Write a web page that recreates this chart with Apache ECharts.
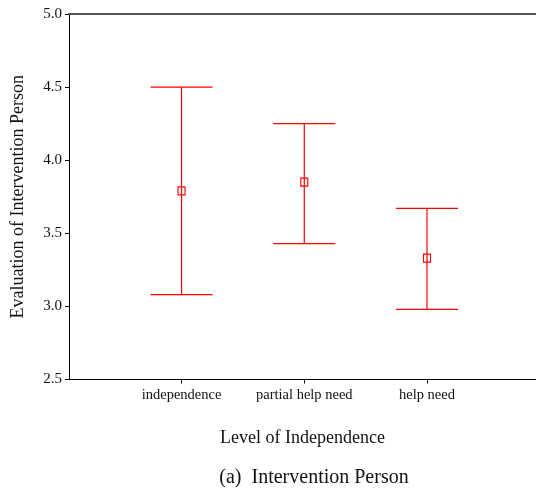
<!DOCTYPE html>
<html>
<head>
<meta charset="utf-8">
<script src="https://cdn.jsdelivr.net/npm/echarts@6/dist/echarts.min.js"></script>
<style>
  html, body { margin: 0; padding: 0; background: #fff; }
  #chart { width: 536px; height: 492px; }
</style>
</head>
<body>
<div id="chart"></div>
<script>
// Mean evaluation with interval bounds per level of independence
var categories = ['independence', 'partial help need', 'help need'];
var means = [3.79, 3.85, 3.33];
var lower = [3.08, 3.43, 2.98];
var upper = [4.50, 4.25, 3.67];
var yTicks = [2.5, 3.0, 3.5, 4.0, 4.5, 5.0];

var positions = categories.map(function (c, i) { return i + 1; });
var barData = positions.map(function (p, i) { return [p, lower[i], upper[i]]; });
var meanData = positions.map(function (p, i) { return [p, means[i]]; });

var RED = '#ff0000';
var SERIF = '"Liberation Serif", "DejaVu Serif", serif';
var X_MIN = 0.083, X_MAX = 3.888;

var chart = echarts.init(document.getElementById('chart'), null, { renderer: 'canvas' });

chart.setOption({
  animation: false,
  backgroundColor: '#ffffff',
  title: {
    text: '(a)  Intervention Person',
    left: 309,
    textAlign: 'center',
    top: 463,
    textStyle: { fontFamily: SERIF, fontSize: 20, fontWeight: 'normal', color: '#111' }
  },
  grid: {
    left: 69, right: 0, top: 14, bottom: 112.5,
    containLabel: false,
    outerBoundsMode: 'none'
  },
  xAxis: [{
    type: 'value',
    position: 'bottom',
    min: X_MIN, max: X_MAX,
    name: 'Level of Independence',
    nameLocation: 'middle',
    nameGap: 50,
    nameTextStyle: { fontFamily: SERIF, fontSize: 18, color: '#111' },
    axisLine: { show: true, lineStyle: { color: '#000', width: 1 } },
    axisTick: { show: true, length: 4, customValues: positions, lineStyle: { color: '#000' } },
    axisLabel: {
      customValues: positions,
      margin: 8,
      fontFamily: SERIF, fontSize: 14.5, color: '#111',
      formatter: function (v) { return categories[Math.round(v) - 1] || ''; }
    },
    splitLine: { show: false }
  }, {
    type: 'value',
    position: 'top',
    min: X_MIN, max: X_MAX,
    axisLine: { show: true, lineStyle: { color: '#555', width: 2 } },
    axisTick: { show: false },
    axisLabel: { show: false },
    splitLine: { show: false }
  }],
  yAxis: {
    type: 'value',
    min: 2.5, max: 5.0, interval: 0.5,
    name: 'Evaluation of Intervention Person',
    nameLocation: 'middle',
    nameGap: 42,
    nameTextStyle: { fontFamily: SERIF, fontSize: 18, color: '#111' },
    axisLine: { show: true, lineStyle: { color: '#000', width: 1 } },
    axisTick: { show: true, length: 4, lineStyle: { color: '#000' } },
    axisLabel: {
      customValues: yTicks,
      margin: 7,
      fontFamily: SERIF, fontSize: 15, color: '#111',
      formatter: function (v) { return v.toFixed(1); }
    },
    splitLine: { show: false }
  },
  series: [{
    type: 'custom',
    xAxisIndex: 0,
    data: barData,
    silent: true,
    z: 2,
    renderItem: function (params, api) {
      var x = api.value(0);
      var pLo = api.coord([x, api.value(1)]);
      var pHi = api.coord([x, api.value(2)]);
      var hw = 31;
      var st = { stroke: RED, lineWidth: 1.2 };
      return {
        type: 'group',
        children: [
          { type: 'line', shape: { x1: pHi[0], y1: pHi[1], x2: pLo[0], y2: pLo[1] }, style: st },
          { type: 'line', shape: { x1: pHi[0] - hw, y1: pHi[1], x2: pHi[0] + hw, y2: pHi[1] }, style: st },
          { type: 'line', shape: { x1: pLo[0] - hw, y1: pLo[1], x2: pLo[0] + hw, y2: pLo[1] }, style: st }
        ]
      };
    }
  }, {
    type: 'scatter',
    xAxisIndex: 0,
    data: meanData,
    silent: true,
    z: 3,
    symbol: 'rect',
    symbolSize: [7, 8],
    itemStyle: { color: 'rgba(0,0,0,0)', borderColor: RED, borderWidth: 1.2, opacity: 1 }
  }]
});
</script>
</body>
</html>
